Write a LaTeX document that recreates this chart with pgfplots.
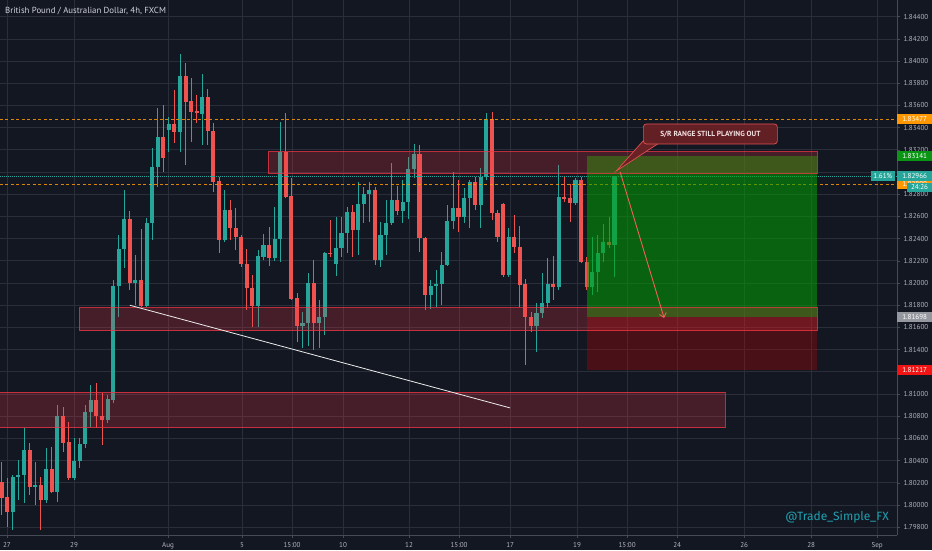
\documentclass[border=0pt]{standalone}
\usepackage{fontspec}
\setmainfont{PT Sans}
\newfontfamily\wmfont{Fira Sans}
\usepackage{pgfplots}
\pgfplotsset{compat=1.18}
\usepackage{pgfplotstable}
\usetikzlibrary{arrows.meta}

\definecolor{bg}{RGB}{19,23,34}
\definecolor{gridc}{RGB}{42,46,58}
\definecolor{axisc}{RGB}{70,74,86}
\definecolor{txt}{RGB}{178,181,190}
\definecolor{upc}{RGB}{38,166,154}
\definecolor{dnc}{RGB}{239,83,80}
\definecolor{orangec}{RGB}{255,152,0}
\definecolor{zonec}{RGB}{242,54,69}
\definecolor{tpc}{RGB}{0,160,0}
\definecolor{slc}{RGB}{200,0,0}
\definecolor{tplbl}{RGB}{10,150,20}
\definecolor{entlbl}{RGB}{150,152,160}
\definecolor{sllbl}{RGB}{240,20,20}
\definecolor{arrowc}{RGB}{242,95,85}
\definecolor{callfill}{RGB}{105,33,38}
\definecolor{callborder}{RGB}{225,80,80}
\definecolor{wmc}{RGB}{32,160,175}

\newcommand\lbl{\fontsize{7.1}{8}\selectfont}

% green (up) candles: index, open, high, low, close
\pgfplotstableread{
i O H L C
2 1.79940 1.80271 1.79775 1.80255
3 1.80255 1.80406 1.80046 1.80271
4 1.80271 1.80694 1.80019 1.80496
6 1.80163 1.80388 1.80001 1.80181
8 1.80046 1.80514 1.80019 1.80325
10 1.80118 1.80901 1.80028 1.80802
13 1.80244 1.80604 1.80226 1.80397
14 1.80397 1.80604 1.80334 1.80550
15 1.80550 1.80901 1.80514 1.80838
16 1.80838 1.81082 1.80703 1.80946
19 1.80766 1.80991 1.80739 1.80955
20 1.80946 1.82028 1.80919 1.81973
21 1.81973 1.82433 1.81694 1.82307
22 1.82307 1.82838 1.82136 1.82577
24 1.82001 1.82253 1.81802 1.82028
26 1.81793 1.82586 1.81784 1.82541
27 1.82544 1.83217 1.82388 1.83048
28 1.83048 1.83577 1.82865 1.83319
30 1.83379 1.83496 1.83181 1.83433
32 1.83364 1.84064 1.83181 1.83865
36 1.83523 1.83883 1.83244 1.83676
40 1.82388 1.82838 1.82373 1.82658
46 1.81796 1.82298 1.81607 1.82244
47 1.82237 1.82442 1.82208 1.82343
49 1.82226 1.82688 1.82201 1.82397
50 1.82397 1.83454 1.82192 1.83181
54 1.81613 1.81742 1.81415 1.81643
55 1.81643 1.82091 1.81433 1.82003
57 1.81643 1.81847 1.81415 1.81697
58 1.81697 1.82282 1.81532 1.82271
60 1.82172 1.82598 1.82064 1.82316
61 1.82316 1.82598 1.82237 1.82451
62 1.82451 1.82688 1.82271 1.82640
64 1.82478 1.82913 1.82253 1.82712
65 1.82712 1.82865 1.82541 1.82802
66 1.82802 1.82913 1.82553 1.82838
68 1.82208 1.82553 1.82147 1.82433
69 1.82433 1.82748 1.82253 1.82544
70 1.82544 1.83082 1.82523 1.82748
72 1.82652 1.82928 1.82544 1.82733
73 1.82733 1.83136 1.82577 1.83028
74 1.83028 1.83253 1.82946 1.83163
77 1.81892 1.82028 1.81766 1.81973
78 1.81973 1.82118 1.81787 1.81991
79 1.81991 1.82282 1.81802 1.82163
80 1.82163 1.82703 1.82154 1.82562
81 1.82562 1.83003 1.82487 1.82676
83 1.82598 1.82856 1.82541 1.82766
84 1.82766 1.82928 1.82496 1.82913
86 1.82703 1.83037 1.82496 1.82955
87 1.82955 1.83532 1.82928 1.83478
91 1.82073 1.82496 1.82057 1.82415
96 1.81616 1.81820 1.81382 1.81733
97 1.81733 1.82091 1.81685 1.81823
98 1.81823 1.82226 1.81775 1.81991
100 1.81964 1.83064 1.81937 1.82775
103 1.82721 1.82946 1.82703 1.82928
106 1.81964 1.82418 1.81892 1.82102
107 1.82102 1.82433 1.81922 1.82271
108 1.82271 1.82532 1.82192 1.82373
110 1.82343 1.82966 1.82057 1.82966
}\upT

% red (down) candles: index, open, high, low, close
\pgfplotstableread{
i O H L C
0 1.80210 1.80388 1.79910 1.80064
1 1.80075 1.80244 1.79802 1.79940
5 1.80496 1.80559 1.80091 1.80165
7 1.80181 1.80253 1.79775 1.80046
9 1.80325 1.80523 1.80109 1.80118
11 1.80802 1.80883 1.80478 1.80559
12 1.80568 1.80748 1.80226 1.80244
17 1.80946 1.81100 1.80694 1.80802
18 1.80802 1.81010 1.80541 1.80766
23 1.82577 1.82649 1.81937 1.82001
25 1.82028 1.82487 1.81784 1.81793
29 1.83319 1.83604 1.83001 1.83127
31 1.83433 1.83739 1.83262 1.83364
33 1.83865 1.83985 1.83064 1.83634
34 1.83640 1.83847 1.83273 1.83544
35 1.83550 1.83694 1.83442 1.83532
37 1.83676 1.83748 1.83244 1.83373
38 1.83373 1.83442 1.82823 1.82913
39 1.82922 1.82958 1.82271 1.82388
41 1.82658 1.82748 1.82388 1.82496
42 1.82499 1.82676 1.82298 1.82415
43 1.82418 1.82433 1.82145 1.82172
44 1.82172 1.82307 1.81757 1.81955
45 1.81958 1.82073 1.81607 1.81796
48 1.82343 1.82505 1.82154 1.82226
51 1.83181 1.83535 1.82770 1.82778
52 1.82784 1.82946 1.81847 1.81856
53 1.81865 1.81910 1.81472 1.81613
56 1.82003 1.82208 1.81397 1.81643
59 1.82273 1.82568 1.82237 1.82262
63 1.82640 1.82703 1.82237 1.82478
67 1.82838 1.82865 1.82163 1.82208
71 1.82748 1.82874 1.82613 1.82652
75 1.83163 1.83244 1.82282 1.82406
76 1.82406 1.82418 1.81757 1.81892
82 1.82676 1.82928 1.82463 1.82598
85 1.82913 1.82958 1.82658 1.82703
88 1.83478 1.83544 1.82568 1.82631
89 1.82631 1.82658 1.82373 1.82418
90 1.82712 1.82721 1.82057 1.82073
92 1.82415 1.82613 1.82271 1.82328
93 1.82328 1.82514 1.81787 1.81982
94 1.81991 1.82037 1.81262 1.81694
95 1.81694 1.81742 1.81562 1.81616
99 1.81991 1.82244 1.81847 1.81964
101 1.82775 1.82955 1.82733 1.82757
102 1.82766 1.82892 1.82553 1.82721
104 1.82928 1.82958 1.82181 1.82190
105 1.82190 1.82237 1.81937 1.81964
109 1.82373 1.82598 1.82316 1.82343
}\dnT

\begin{document}
\begin{tikzpicture}
\fill[bg] (0,0) rectangle (932pt,550pt);
\begin{axis}[
  at={(0pt,15pt)}, anchor=south west,
  scale only axis, width=897pt, height=535pt,
  xmin=-0.305, xmax=160.7, ymin=1.7973, ymax=1.8455,
  axis x line=bottom, axis y line=right,
  axis line style={-, draw=axisc, line width=0.8pt},
  grid=major, major grid style={draw=gridc, line width=0.7pt},
  tick align=outside, major tick length=3pt,
  tick style={draw=axisc, line width=0.6pt},
  xtick={0.95,12.98,29.86,43.14,52.12,61.27,73.12,82.1,91.26,103.28,112.26,121.24,133.27,145.3,157.15},
  xticklabels={27,29,Aug,5,15:00,10,12,15:00,17,19,15:00,24,26,28,Sep},
  ytick={1.798,1.800,1.802,1.804,1.806,1.808,1.810,1.812,1.814,1.816,1.818,1.820,1.822,1.824,1.826,1.828,1.830,1.832,1.834,1.836,1.838,1.840,1.842,1.844},
  yticklabels={1.79800,1.80000,1.80200,1.80400,1.80600,1.80800,1.81000,{},1.81400,1.81600,1.81800,1.82000,1.82200,1.82400,1.82600,1.82800,{},1.83200,1.83400,1.83600,1.83800,1.84000,1.84200,1.84400},
  ticklabel style={font=\lbl, color=txt},
  xticklabel style={yshift=-1pt},
  clip mode=individual,
]
% candles: wicks
\addplot[draw=none, mark=none, forget plot,
  error bars/.cd, y dir=plus, y explicit, error mark=none,
  error bar style={draw=upc, line width=0.9pt}]
  table[x=i, y=L, y error plus expr=\thisrow{H}-\thisrow{L}] {\upT};
\addplot[draw=none, mark=none, forget plot,
  error bars/.cd, y dir=plus, y explicit, error mark=none,
  error bar style={draw=dnc, line width=0.9pt}]
  table[x=i, y=L, y error plus expr=\thisrow{H}-\thisrow{L}] {\dnT};
% candles: bodies
\addplot[draw=none, mark=none, forget plot,
  error bars/.cd, y dir=plus, y explicit, error mark=none,
  error bar style={draw=upc, line width=4.1pt}]
  table[x=i, y=O, y error plus expr=\thisrow{C}-\thisrow{O}] {\upT};
\addplot[draw=none, mark=none, forget plot,
  error bars/.cd, y dir=plus, y explicit, error mark=none,
  error bar style={draw=dnc, line width=4.1pt}]
  table[x=i, y=C, y error plus expr=\thisrow{O}-\thisrow{C}] {\dnT};

% horizontal lines
\addplot[orangec, opacity=0.85, line width=0.6pt, dash pattern=on 3pt off 2.5pt] coordinates {(-0.305,1.83477) (160.7,1.83477)};
\addplot[orangec, opacity=0.85, line width=0.6pt, dash pattern=on 3pt off 2.5pt] coordinates {(-0.305,1.82890) (160.7,1.82890)};
\addplot[upc, line width=0.6pt, dash pattern=on 0.8pt off 1.2pt] coordinates {(-0.305,1.82966) (160.7,1.82966)};

% position: profit / loss zones
\addplot[draw=none, fill=tpc, fill opacity=0.55] coordinates {(105.08,1.81698) (146.4,1.81698) (146.4,1.83141) (105.08,1.83141)} -- cycle;
\addplot[draw=none, fill=slc, fill opacity=0.30] coordinates {(105.08,1.81217) (146.4,1.81217) (146.4,1.81698) (105.08,1.81698)} -- cycle;

% S/R rectangles
\addplot[draw=zonec, draw opacity=0.75, line width=0.8pt, fill=zonec, fill opacity=0.23] coordinates {(47.81,1.82989) (146.4,1.82989) (146.4,1.83183) (47.81,1.83183)} -- cycle;
\addplot[draw=zonec, draw opacity=0.75, line width=0.8pt, fill=zonec, fill opacity=0.23] coordinates {(13.93,1.81571) (146.4,1.81571) (146.4,1.81778) (13.93,1.81778)} -- cycle;
\addplot[draw=zonec, draw opacity=0.75, line width=0.8pt, fill=zonec, fill opacity=0.23] coordinates {(-0.6,1.80697) (129.85,1.80697) (129.85,1.81016) (-0.6,1.81016)} -- cycle;

% trend line
\addplot[white!85!gray, line width=0.8pt] coordinates {(23.0,1.81800) (91.26,1.80875)};

% arrow
\draw[arrowc, line width=0.9pt, -{Straight Barb[length=4pt,width=7pt]}] (axis cs:111.0,1.83001) -- (axis cs:118.9,1.81685);

% callout pointer and box
\filldraw[fill=callfill, draw=callborder, line width=0.7pt] (axis cs:115.3,1.83290) -- (axis cs:110.3,1.83009) -- (axis cs:118.0,1.83262);
\node[fill=callfill, fill opacity=0.92, text opacity=1, draw=callborder, line width=0.7pt, rounded corners=3pt, minimum width=134pt, minimum height=20pt, inner sep=0pt, text={rgb,255:red,245;green,228;blue,228}, font=\bfseries\fontsize{7.4}{9}\selectfont] at (axis cs:127.2,1.83343) {S/R RANGE STILL PLAYING OUT};

\coordinate (pA) at (axis cs:160.7,1.83477);
\coordinate (pB) at (axis cs:160.7,1.83141);
\coordinate (pO) at (axis cs:160.7,1.82890);
\coordinate (pC) at (axis cs:160.7,1.82966);
\coordinate (pD) at (axis cs:160.7,1.82865);
\coordinate (pE) at (axis cs:160.7,1.81698);
\coordinate (pF) at (axis cs:160.7,1.81217);
\end{axis}

% price scale tags
\node[fill=orangec, text=white, anchor=west, minimum width=35pt, minimum height=10pt, inner sep=0pt, font=\lbl] at (pA) {1.83477};
\node[fill=tplbl, text=white, anchor=west, minimum width=35pt, minimum height=10pt, inner sep=0pt, font=\lbl] at (pB) {1.83141};
\node[fill=orangec, text=white, anchor=west, minimum width=35pt, minimum height=10pt, inner sep=0pt, font=\lbl] at (pO) {1.82890};
\node[fill=upc, text=white, anchor=west, minimum width=35pt, minimum height=10pt, inner sep=0pt, font=\lbl] at (pC) {1.82966};
\node[fill=upc, text=white, anchor=east, minimum width=24pt, minimum height=10pt, inner sep=0pt, font=\lbl] at ([xshift=-2pt]pC) {1.61\%};
\node[fill=upc, text=white, anchor=west, minimum width=25.3pt, minimum height=9pt, inner sep=0pt, font=\lbl] at ([xshift=9.7pt]pD) {24:26};
\node[fill=entlbl, text=white, anchor=west, minimum width=35pt, minimum height=10pt, inner sep=0pt, font=\lbl] at (pE) {1.81698};
\node[fill=sllbl, text=white, anchor=west, minimum width=35pt, minimum height=10pt, inner sep=0pt, font=\lbl] at (pF) {1.81217};

% title and watermark
\node[anchor=west, text={rgb,255:red,209;green,212;blue,220}, font=\fontsize{8.8}{10}\selectfont, inner sep=0pt] at (5pt,539pt) {British Pound / Australian Dollar, 4h, FXCM};
\node[anchor=east, text=wmc, font=\wmfont\fontsize{12}{14}\selectfont, inner sep=0pt] at (889pt,33pt) {@Trade\_Simple\_FX};

\pgfresetboundingbox
\path (0,0) rectangle (932pt,550pt);
\end{tikzpicture}
\end{document}
